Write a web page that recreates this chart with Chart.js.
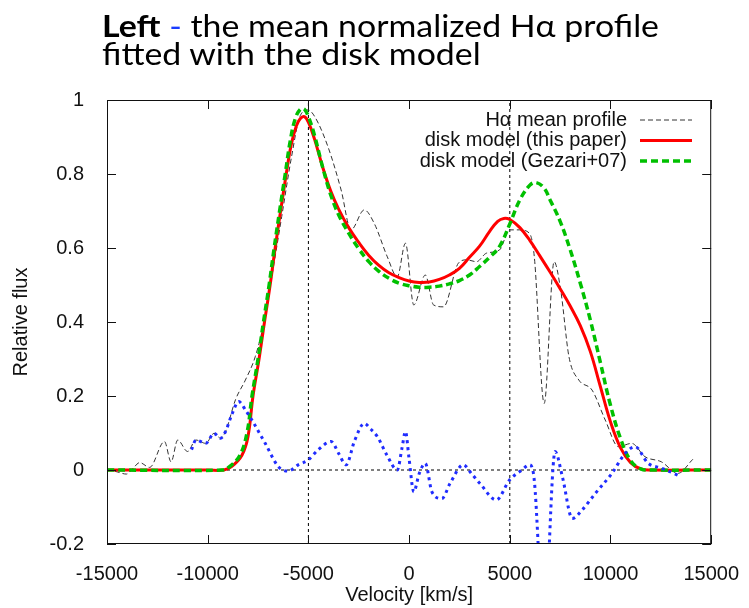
<!DOCTYPE html>
<html>
<head>
<meta charset="utf-8">
<script src="https://cdn.jsdelivr.net/npm/chart.js@4.4.0/dist/chart.umd.min.js"></script>
<style>
  body { margin: 0; background: #fff; }
  #wrap { position: relative; width: 749px; height: 608px; }
  #chart { position: absolute; left: 0; top: 0; }
  #title { position: absolute; left: 102px; top: 11px; font: 31px Lato, sans-serif; line-height: 28px; color: #000; transform-origin: 0 0; white-space: nowrap; }
  #title .dash { color: #1a3cff; }
</style>
</head>
<body>
<div id="wrap">
  <canvas id="chart" width="749" height="608"></canvas>
  <div id="title">
    <span id="t1"><b>Left</b> <span class="dash">-</span> the mean normalized Hα profile</span><br>
    <span>fitted with the disk model</span>
  </div>
</div>
<script>
// Hα mean profile (black dashed)
const profileVel = [-15000, -14500, -14036, -13700, -13377, -12885, -12147, -11818, -11490, -10998, -10588, -10096, -9688, -9360, -9114, -8620, -8130, -7640, -7145, -6817, -6325, -5836, -5425, -5015, -4685, -4031, -3376, -2885, -2226, -1735, -1080, -588, -180, 232, 804, 1215, 1707, 2447, 2855, 3347, 3839, 4495, 4986, 5478, 5970, 6216, 6707, 7200, 7528, 7938, 8430, 9085, 9740, 10396, 11052, 11710, 12530, 13350, 14090];
const profileFlux = [0.002, -0.005, -0.011, 0.005, 0.02, 0.007, 0.077, 0.022, 0.081, 0.05, 0.081, 0.072, 0.099, 0.086, 0.104, 0.19, 0.243, 0.306, 0.414, 0.522, 0.685, 0.847, 0.955, 0.973, 0.955, 0.874, 0.757, 0.649, 0.703, 0.667, 0.576, 0.522, 0.613, 0.446, 0.527, 0.446, 0.441, 0.559, 0.568, 0.563, 0.586, 0.595, 0.649, 0.649, 0.64, 0.577, 0.18, 0.563, 0.486, 0.306, 0.243, 0.216, 0.135, 0.063, 0.072, 0.036, 0.022, -0.009, 0.029];

// disk model (this paper) - red
const diskVel = [-15000, -10000, -9200, -8800, -8300, -8000, -7750, -7450, -7180, -6900, -6650, -6380, -6100, -5850, -5600, -5400, -5200, -5000, -4700, -4300, -3900, -3500, -3000, -2500, -2000, -1500, -1000, -500, 0, 500, 1000, 1500, 2000, 2500, 3000, 3500, 4000, 4400, 4700, 5000, 5500, 6000, 6500, 7000, 7500, 8000, 8500, 9000, 9500, 10000, 10500, 11000, 11500, 12000, 15000];
const diskFlux = [0, 0, 0, 0.01, 0.04, 0.09, 0.2, 0.3, 0.4, 0.5, 0.6, 0.7, 0.8, 0.88, 0.93, 0.95, 0.955, 0.94, 0.895, 0.82, 0.755, 0.705, 0.655, 0.615, 0.58, 0.553, 0.533, 0.52, 0.511, 0.507, 0.508, 0.515, 0.527, 0.545, 0.575, 0.605, 0.645, 0.672, 0.68, 0.677, 0.655, 0.62, 0.578, 0.535, 0.49, 0.443, 0.39, 0.32, 0.225, 0.13, 0.06, 0.02, 0.003, 0, 0];

// disk model (Gezari+07) - green
const gezariVel = [-15000, -9300, -8900, -8400, -8050, -7800, -7500, -7230, -6950, -6700, -6430, -6150, -5900, -5650, -5400, -5200, -5000, -4700, -4300, -3900, -3500, -3000, -2500, -2000, -1500, -1000, -500, 0, 500, 1000, 1500, 2000, 2500, 3000, 3500, 4000, 4500, 5000, 5500, 6000, 6300, 6700, 7000, 7500, 8000, 8500, 9000, 9500, 10000, 10500, 11000, 11500, 12000, 15000];
const gezariFlux = [0, 0, 0.01, 0.04, 0.1, 0.2, 0.3, 0.4, 0.5, 0.6, 0.7, 0.8, 0.89, 0.95, 0.975, 0.975, 0.955, 0.905, 0.82, 0.745, 0.69, 0.64, 0.598, 0.563, 0.537, 0.518, 0.505, 0.498, 0.494, 0.494, 0.497, 0.503, 0.512, 0.527, 0.55, 0.575, 0.605, 0.665, 0.73, 0.77, 0.777, 0.762, 0.73, 0.672, 0.595, 0.505, 0.405, 0.29, 0.175, 0.085, 0.025, 0.003, 0, 0];

// residual (blue dotted)
const residVel = [-10800, -10588, -10096, -9688, -9360, -9114, -8800, -8458, -8100, -7805, -7145, -6490, -6000, -5507, -5015, -4523, -3868, -3500, -3130, -2700, -2226, -1900, -1572, -1100, -588, -350, -180, 0, 232, 500, 804, 1133, 1626, 2036, 2693, 3100, 3511, 4331, 4986, 5600, 5970, 6200, 6700, 7250, 7610, 8103, 8595, 9250, 10072, 10728, 11218, 11874, 12530, 13350];
const residFlux = [0.055, 0.081, 0.072, 0.099, 0.086, 0.104, 0.15, 0.185, 0.16, 0.135, 0.072, 0.009, -0.003, 0.014, 0.027, 0.054, 0.077, 0.045, 0.014, 0.08, 0.126, 0.11, 0.09, 0.04, 0.0, 0.06, 0.104, 0.03, -0.059, -0.01, 0.018, -0.059, -0.077, -0.036, 0.014, -0.01, -0.036, -0.081, -0.027, 0.0, 0.014, -0.02, -0.42, 0.05, -0.018, -0.131, -0.108, -0.063, -0.009, 0.045, 0.063, 0.018, 0.005, -0.014];

// reference marks
const markerVel = [-5000, 5000];
const zeroSpan = [-15000, 15000];
const yRange = [-0.2, 1];

const pts = (xs, ys) => xs.map((x, i) => ({ x: x, y: ys[i] }));

const datasets = [
	{ label: "Hα mean profile", data: pts(profileVel, profileFlux), borderColor: "#333", borderWidth: 1, borderDash: [5, 3], order: 4, cubicInterpolationMode: "monotone" },
	{ label: "disk model (this paper)", data: pts(diskVel, diskFlux), borderColor: "#ff0000", borderWidth: 3, order: 3, tension: 0.4 },
	{ label: "disk model (Gezari+07)", data: pts(gezariVel, gezariFlux), borderColor: "#00c000", borderWidth: 3.5, borderDash: [7, 4], order: 2, tension: 0.4 },
	{ label: "residual", data: pts(residVel, residFlux), borderColor: "#1f2cff", borderWidth: 3, borderDash: [3, 4], order: 1, cubicInterpolationMode: "monotone" }
];
markerVel.forEach(v => {
	datasets.push({ label: "", data: pts([v, v], yRange), borderColor: "#000", borderWidth: 1, borderDash: [3, 3], order: 5, tension: 0 });
});
datasets.push({ label: "", data: pts(zeroSpan, [0, 0]), borderColor: "#000", borderWidth: 1, borderDash: [3, 3], order: 5, tension: 0 });
datasets.forEach(d => {
	d.pointRadius = 0;
	d.fill = false;
});

// gnuplot-style box with inward ticks on all sides
const frameTicks = {
	id: "frameTicks",
	afterDatasetsDraw(chart) {
		const { ctx, chartArea: { left, right, top, bottom }, scales: { x, y } } = chart;
		ctx.save();
		ctx.strokeStyle = "#111";
		ctx.lineWidth = 1;
		ctx.setLineDash([]);
		ctx.strokeRect(left + 0.5, top + 0.5, right - left - 1, bottom - top - 1);
		ctx.beginPath();
		const len = 9;
		x.ticks.forEach(t => {
			const px = Math.round(x.getPixelForValue(t.value)) + 0.5;
			ctx.moveTo(px, bottom); ctx.lineTo(px, bottom - len);
			ctx.moveTo(px, top); ctx.lineTo(px, top + len);
		});
		y.ticks.forEach(t => {
			const py = Math.round(y.getPixelForValue(t.value)) + 0.5;
			ctx.moveTo(left, py); ctx.lineTo(left + len, py);
			ctx.moveTo(right, py); ctx.lineTo(right - len, py);
		});
		ctx.stroke();
		ctx.restore();
	}
};

// legend: text right aligned, sample on the right
const keyLegend = {
	id: "keyLegend",
	afterDatasetsDraw(chart) {
		const ctx = chart.ctx;
		ctx.save();
		ctx.font = "20px 'Liberation Sans', Arial, sans-serif";
		ctx.textAlign = "right";
		ctx.textBaseline = "middle";
		[0, 1, 2].forEach((i, row) => {
			const ds = chart.data.datasets[i];
			const yy = 120 + row * 20.5;
			ctx.fillStyle = "#111";
			ctx.fillText(ds.label, 627, yy);
			ctx.strokeStyle = ds.borderColor;
			ctx.lineWidth = ds.borderWidth;
			ctx.setLineDash(ds.borderDash || []);
			ctx.beginPath();
			ctx.moveTo(640, yy);
			ctx.lineTo(692, yy);
			ctx.stroke();
		});
		ctx.restore();
	}
};

const axisFont = { family: "'Liberation Sans', Arial, sans-serif", size: 20 };

new Chart(document.getElementById("chart").getContext("2d"), {
	type: "line",
	data: { datasets: datasets },
	options: {
		responsive: false,
		animation: false,
		layout: { padding: { top: 100, right: 32, left: 0, bottom: 0 } },
		plugins: { legend: { display: false }, tooltip: { enabled: false } },
		scales: {
			x: {
				type: "linear",
				min: -15000,
				max: 15000,
				grid: { display: false },
				border: { display: false },
				ticks: { stepSize: 5000, color: "#111", font: axisFont, padding: 10, maxRotation: 0, callback: v => String(v) },
				title: { display: true, text: "Velocity [km/s]", color: "#111", font: axisFont, padding: { top: 0, bottom: 1 } },
				afterFit: s => { s.height = 64; }
			},
			y: {
				min: -0.2,
				max: 1,
				grid: { display: false },
				border: { display: false },
				ticks: { stepSize: 0.2, color: "#111", font: axisFont, padding: 15, callback: v => String(+v.toFixed(1)) },
				title: { display: true, text: "Relative flux", color: "#111", font: axisFont, padding: { top: 9, bottom: 0 } },
				afterFit: s => { s.width = 107; }
			}
		}
	},
	plugins: [frameTicks, keyLegend]
});

// squeeze the title to the slide's width
const t1 = document.getElementById("t1");
const sx = 557 / t1.getBoundingClientRect().width;
document.getElementById("title").style.transform = "scaleX(" + sx + ")";
</script>
</body>
</html>
